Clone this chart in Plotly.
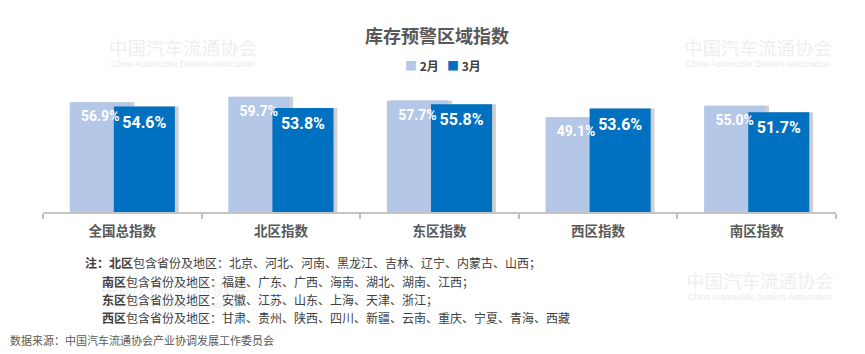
import plotly.graph_objects as go

categories = ["全国总指数", "北区指数", "东区指数", "西区指数", "南区指数"]
feb_values = [56.9, 59.7, 57.7, 49.1, 55.0]
mar_values = [54.6, 53.8, 55.8, 53.6, 51.7]
series_names = ["2月", "3月"]

title_text = "库存预警区域指数"
notes = [
    "<b>注：北区</b>包含省份及地区：北京、河北、河南、黑龙江、吉林、辽宁、内蒙古、山西；",
    "<b>南区</b>包含省份及地区：福建、广东、广西、海南、湖北、湖南、江西；",
    "<b>东区</b>包含省份及地区：安徽、江苏、山东、上海、天津、浙江；",
    "<b>西区</b>包含省份及地区：甘肃、贵州、陕西、四川、新疆、云南、重庆、宁夏、青海、西藏",
]
source_text = "数据来源：中国汽车流通协会产业协调发展工作委员会"
wm_cn = "中国汽车流通协会"
wm_en = "China Automobile Dealers Association"

W, H = 865, 354
LIGHT = "#b4c7e7"
DARK = "#0070c0"
CJK = "Noto Sans CJK SC"
NUMF = "Roboto"

idx = list(range(len(categories)))
bw = 0.385
sep = 0.139
shadow_shift = 0.024

fig = go.Figure()

# shadows
for vals, c in ((feb_values, -sep), (mar_values, sep)):
    fig.add_trace(go.Bar(x=idx, y=vals, width=bw, offset=c - bw / 2 + shadow_shift,
                         marker=dict(color="#cfcfcf", line=dict(width=0)),
                         showlegend=False, hoverinfo="skip"))

fig.add_trace(go.Bar(x=idx, y=feb_values, name=series_names[0], width=bw, offset=-sep - bw / 2,
                     marker=dict(color=LIGHT, line=dict(width=0)), showlegend=False))
fig.add_trace(go.Bar(x=idx, y=mar_values, name=series_names[1], width=bw, offset=sep - bw / 2,
                     marker=dict(color=DARK, line=dict(width=0)), showlegend=False))

# value labels (invisible markers only push the text below the bar top)
fig.add_trace(go.Scatter(x=[i - sep for i in idx], y=feb_values, mode="markers+text",
                         marker=dict(size=12, color="rgba(0,0,0,0)"),
                         text=[f"{v:.1f}%" for v in feb_values], textposition="bottom center",
                         textfont=dict(family=NUMF, size=14, color="white", weight="bold"),
                         showlegend=False, hoverinfo="skip"))
fig.add_trace(go.Scatter(x=[i + sep for i in idx], y=mar_values, mode="markers+text",
                         marker=dict(size=13, color="rgba(0,0,0,0)"),
                         text=[f"{v:.1f}%" for v in mar_values], textposition="bottom center",
                         textfont=dict(family=NUMF, size=16, color="white", weight="bold"),
                         showlegend=False, hoverinfo="skip"))

ann = []
# watermarks
for (xc, yc) in ((183, 47), (758, 47), (174, 288), (760, 280)):
    ann.append(dict(x=xc / W, y=1 - yc / H, xref="paper", yref="paper", text=wm_cn, showarrow=False,
                    font=dict(family=CJK, size=18.5, color="#eeeeee"), xanchor="center", yanchor="middle"))
    ann.append(dict(x=xc / W, y=1 - (yc + 17) / H, xref="paper", yref="paper", text=wm_en, showarrow=False,
                    font=dict(family="Liberation Sans, Arial", size=8.5, color="#eaeaea"),
                    xanchor="center", yanchor="middle"))

# legend
for name, col, lx in zip(series_names, (LIGHT, DARK), (403, 445)):
    ann.append(dict(x=lx / W, y=1 - 65 / H, xref="paper", yref="paper",
                    text=f"<span style='color:{col}'>■</span> <b>{name}</b>", showarrow=False,
                    font=dict(family=CJK, size=12, color="#404040"), xanchor="left", yanchor="middle"))

note_y = [262, 281, 299, 317]
note_x = [83, 100, 100, 100]
for t, xx, yy in zip(notes, note_x, note_y):
    ann.append(dict(x=xx / W, y=1 - yy / H, xref="paper", yref="paper", text=t, showarrow=False,
                    font=dict(family=CJK, size=12, color="#404040"), xanchor="left", yanchor="middle"))
ann.append(dict(x=8 / W, y=1 - 340 / H, xref="paper", yref="paper", text=source_text, showarrow=False,
                font=dict(family=CJK, size=11, color="#595959"), xanchor="left", yanchor="middle"))

fig.update_layout(
    width=W, height=H,
    margin=dict(l=0, r=0, t=0, b=0),
    paper_bgcolor="white", plot_bgcolor="white",
    barmode="overlay",
    title=dict(text=f"<b>{title_text}</b>", x=437 / W, xanchor="center", y=1 - 37 / H, yanchor="middle",
               font=dict(family=CJK, size=18, color="#595959")),
    xaxis=dict(domain=[43 / W, 836 / W], range=[-0.5, len(categories) - 0.5],
               tickmode="array", tickvals=idx, ticktext=[f"<b>{c}</b>" for c in categories],
               ticks="outside", ticklen=0, tickcolor="rgba(0,0,0,0)",
               minor=dict(tickmode="linear", tick0=-0.5, dtick=1, ticks="outside", ticklen=5,
                          tickcolor="#bfbfbf", tickwidth=1.5, showgrid=False),
               showline=True, linecolor="#c4c4c4", linewidth=2, showgrid=False, zeroline=False,
               tickfont=dict(family=CJK, size=13.5, color="#595959"), ticklabelstandoff=6,
               fixedrange=True),
    yaxis=dict(domain=[1 - 212 / H, 1 - 86.5 / H], range=[0, 65], visible=False, showgrid=False,
               fixedrange=True),
    annotations=ann,
    showlegend=False,
)

fig.write_html("out.html")
